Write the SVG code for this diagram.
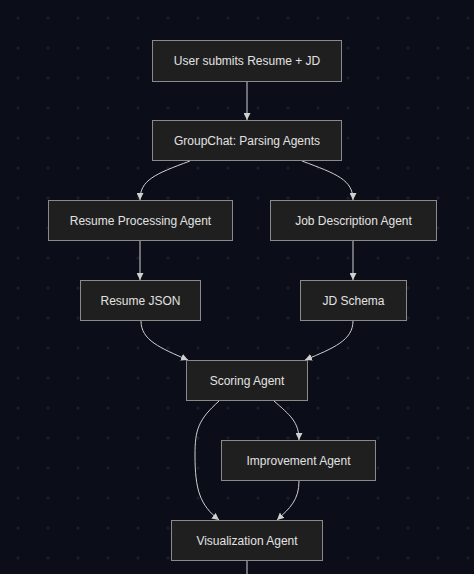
<svg xmlns="http://www.w3.org/2000/svg" width="474" height="574" viewBox="0 0 474 574">
<style>
.node rect{fill:#1f1f1f;stroke:#8a8a8a;stroke-width:1}
.node text{fill:#e2e2e2;font-family:"Liberation Sans","DejaVu Sans",sans-serif;font-size:12px;text-anchor:middle;dominant-baseline:central}
#edges path{fill:none;stroke:#d0d0d0;stroke-width:1;marker-end:url(#arr)}
#edges path.plain{marker-end:none}
</style>
<defs>
<pattern id="dots" x="3" y="3" width="30" height="30" patternUnits="userSpaceOnUse">
<circle cx="15" cy="15" r="1.5" fill="#1b1f2c"/>
</pattern>
<marker id="arr" viewBox="0 0 10 10" refX="10" refY="5" markerWidth="7" markerHeight="7" markerUnits="userSpaceOnUse" orient="auto">
<path d="M0,0 L10,5 L0,10 z" fill="#d0d0d0"/>
</marker>
</defs>
<rect width="474" height="574" fill="#0b0e18"/>
<rect width="474" height="574" fill="url(#dots)"/>
<g id="edges">
<path d="M247,81 L247,120"/>
<path d="M190,161 C155,174 140,180 140,200"/>
<path d="M302,161 C337,174 353,180 353,200"/>
<path d="M140,240 L140,280"/>
<path d="M353,240 L353,280"/>
<path d="M141,321 C141,340 160,348 188,360"/>
<path d="M353,321 C353,340 334,348 305,360"/>
<path d="M219,401 C198,420 195,430 195,455 C195,490 200,505 219,520"/>
<path d="M274,401 C290,415 299,422 299,440"/>
<path d="M299,481 C299,500 290,508 277,520"/>
<path class="plain" d="M247,560 L247,574"/>
</g>
<g id="n1" class="node"><rect x="152.5" y="40.5" width="189" height="41"/><text x="247" y="61">User submits Resume + JD</text></g>
<g id="n2" class="node"><rect x="152.5" y="120.5" width="189" height="40"/><text x="247" y="140.5">GroupChat: Parsing Agents</text></g>
<g id="n3" class="node"><rect x="48.5" y="200.5" width="184" height="40"/><text x="140.5" y="220.5">Resume Processing Agent</text></g>
<g id="n4" class="node"><rect x="270.5" y="200.5" width="166" height="40"/><text x="353.5" y="220.5">Job Description Agent</text></g>
<g id="n5" class="node"><rect x="80.5" y="280.5" width="120" height="40"/><text x="140.5" y="300.5">Resume JSON</text></g>
<g id="n6" class="node"><rect x="300.5" y="280.5" width="106" height="40"/><text x="353.5" y="300.5">JD Schema</text></g>
<g id="n7" class="node"><rect x="186.5" y="360.5" width="121" height="40"/><text x="247" y="380.5">Scoring Agent</text></g>
<g id="n8" class="node"><rect x="221.5" y="440.5" width="154" height="40"/><text x="298.5" y="460.5">Improvement Agent</text></g>
<g id="n9" class="node"><rect x="171.5" y="520.5" width="151" height="40"/><text x="247" y="540.5">Visualization Agent</text></g>
</svg>
